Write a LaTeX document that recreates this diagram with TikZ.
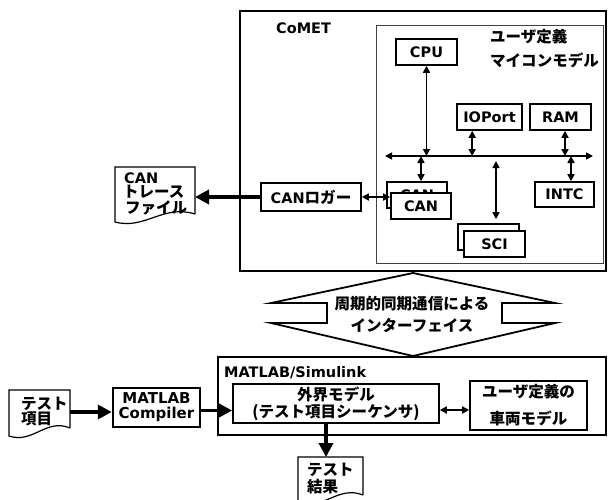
\documentclass[tikz,border=0pt]{standalone}
\usepackage{fontspec}
\setmainfont{DejaVu Sans}
\newfontfamily\jpfont{Noto Sans CJK JP}[Scale=1.07]
\usetikzlibrary{arrows.meta,calc}
\newcommand\jtxt[1]{{\jpfont\bfseries #1}}
\begin{document}
\begin{tikzpicture}[x=1pt,y=-1pt,
  box/.style={draw,line width=1.6pt,inner sep=0pt,align=center,font=\fontsize{14.5}{16}\selectfont\bfseries},
  txt/.style={inner sep=0pt,font=\fontsize{14.5}{16}\selectfont\bfseries},
  dbl/.style={line width=1.6pt,{Triangle[length=7pt,width=7pt]}-{Triangle[length=7pt,width=7pt]}},
  fat/.style={line width=3.5pt,-{Triangle[length=14pt,width=14pt]}},
  docline/.style={line width=1.2pt},
  ghost/.style={inner sep=0pt,outer sep=0pt}
]
\useasboundingbox (0,0) rectangle (608,499);

% ---------- CoMET ----------
\node[draw,line width=2.8pt,minimum width=366pt,minimum height=260pt] (comet) at (423,141) {};
\node[txt,anchor=west] (cometlbl) at (276,28) {CoMET};
\node[draw=black!75,line width=0.8pt,minimum width=227pt,minimum height=238pt] (mcu) at (489.5,144) {};
\node[txt,anchor=west,align=left,font=\fontsize{14.5}{24}\selectfont] (mculbl) at (490,49) {\jtxt{ユーザ定義}\\\jtxt{マイコンモデル}};

\node[box,minimum width=61pt,minimum height=26pt] (cpu) at (426.5,52) {CPU};
\node[box,minimum width=65pt,minimum height=26pt] (ioport) at (489.5,117) {IOPort};
\node[box,minimum width=61pt,minimum height=26pt] (ram) at (560.5,117) {RAM};
\node[box,minimum width=59pt,minimum height=25pt] (intc) at (564.5,194.5) {INTC};
\node[box,fill=white,minimum width=60pt,minimum height=26pt] (canback) at (417,195) {CAN};
\node[box,fill=white,minimum width=60pt,minimum height=26pt] (canfront) at (421,206) {CAN};
\node[box,fill=white,minimum width=61pt,minimum height=26pt] (sciback) at (488.5,237) {};
\node[box,fill=white,minimum width=61pt,minimum height=26pt] (scifront) at (494.5,244) {SCI};
\node[box,minimum width=100pt,minimum height=28pt] (canlogger) at (311,197) {CAN\jtxt{ロガー}};

% bus
\coordinate (busL) at (385,156);
\coordinate (busR) at (593,156);
\draw[dbl] (busL) -- (busR);
\draw[dbl] (cpu.south) -- (cpu.south |- busL);
\coordinate (ioA) at ([xshift=16pt]ioport.south west);
\draw[dbl] (ioA) -- (ioA |- busL);
\coordinate (ramA) at ([xshift=4.5pt]ram.south);
\draw[dbl] (ramA) -- (ramA |- busL);
\coordinate (canA) at ([xshift=4pt]canback.north);
\draw[dbl] (canA |- busL) -- (canA);
\coordinate (intcA) at ([xshift=6.5pt]intc.north);
\draw[dbl] (intcA |- busL) -- (intcA);
\coordinate (sciA) at ([xshift=7.5pt,yshift=4pt]sciback.north);
\coordinate (sciB) at (496,161);
\draw[dbl] (sciB) -- (sciA);
\draw[dbl] (canlogger.east) -- (canlogger.east -| canfront.west);

% CAN trace file
\node[ghost,minimum width=80pt,minimum height=47pt] (cantrace) at (155,190.5) {};
\draw[docline] (cantrace.south east) -- (cantrace.north east) -- (cantrace.north west)
  -- ($(cantrace.south west)+(0,8)$)
  .. controls ($(cantrace.south west)+(30,16)$) and ($(cantrace.south east)+(-32,-10)$) .. (cantrace.south east);
\node[txt,anchor=base west] (ct1) at (124,183) {CAN};
\node[txt,anchor=base west] (ct2) at (123,197) {\jtxt{トレース}};
\node[txt,anchor=base west] (ct3) at (125,213) {\jtxt{ファイル}};
\draw[fat] (canlogger.west) -- (canlogger.west -| cantrace.east);

% ---------- interface ----------
\draw[line width=1.8pt,line join=miter]
  (413,273) -- (555,303) -- (502,303) -- (502,323) -- (555,323) -- (413,356)
  -- (271,323) -- (327,323) -- (327,303) -- (271,303) -- cycle;
\node[txt,align=center,font=\fontsize{14.5}{22}\selectfont] (iftxt) at (412,314) {\jtxt{周期的同期通信による}\\\jtxt{インターフェイス}};

% ---------- MATLAB ----------
\node[draw,line width=2.3pt,minimum width=388pt,minimum height=78pt] (matlab) at (412,396) {};
\node[txt,anchor=west] (matlablbl) at (224,373) {MATLAB/Simulink};
\node[box,minimum width=206pt,minimum height=39pt,font=\fontsize{14.5}{17}\selectfont] (gaikai) at (336,403.5) {\jtxt{外界モデル}\\\jtxt{(テスト項目シーケンサ)}};
\node[box,minimum width=117pt,minimum height=49pt,font=\fontsize{14.5}{27}\selectfont] (vehicle) at (528.5,405.5) {\jtxt{ユーザ定義の}\\\jtxt{車両モデル}};
\coordinate (gvA) at ([yshift=-6.5pt]gaikai.east);
\draw[dbl] (gvA) -- (gvA -| vehicle.west);

\node[box,line width=2.5pt,minimum width=87pt,minimum height=39pt,font=\fontsize{15}{15}\selectfont\bfseries] (compiler) at (156.5,407.5) {MATLAB\\Compiler};

% test items doc
\node[ghost,minimum width=61pt,minimum height=38pt] (testitem) at (39.5,409) {};
\draw[docline] (testitem.south east) -- (testitem.north east) -- (testitem.north west)
  -- ($(testitem.south west)+(0,8)$)
  .. controls ($(testitem.south west)+(24,16)$) and ($(testitem.south east)+(-24,-10)$) .. (testitem.south east);
\node[txt,anchor=base west] (ti1) at (21,409) {\jtxt{テスト}};
\node[txt,anchor=base west] (ti2) at (21,424) {\jtxt{項目}};

\coordinate (tiA) at ([yshift=-3pt]testitem.east);
\draw[fat] (tiA) -- (tiA -| compiler.west);
\coordinate (cpA) at ([yshift=-3pt]compiler.east);
\draw[fat] (cpA) -- (cpA -| gaikai.west);

% test result doc
\node[ghost,minimum width=65pt,minimum height=38pt] (testresult) at (330.5,476) {};
\draw[docline] (testresult.south east) -- (testresult.north east) -- (testresult.north west)
  -- ($(testresult.south west)+(0,8)$)
  .. controls ($(testresult.south west)+(25,16)$) and ($(testresult.south east)+(-25,-10)$) .. (testresult.south east);
\node[txt,anchor=base west] (tr1) at (307,475) {\jtxt{テスト}};
\node[txt,anchor=base west] (tr2) at (307,492) {\jtxt{結果}};

\coordinate (gkA) at ([xshift=-10pt]gaikai.south);
\draw[fat] (gkA) -- (gkA |- testresult.north);
\end{tikzpicture}
\end{document}
